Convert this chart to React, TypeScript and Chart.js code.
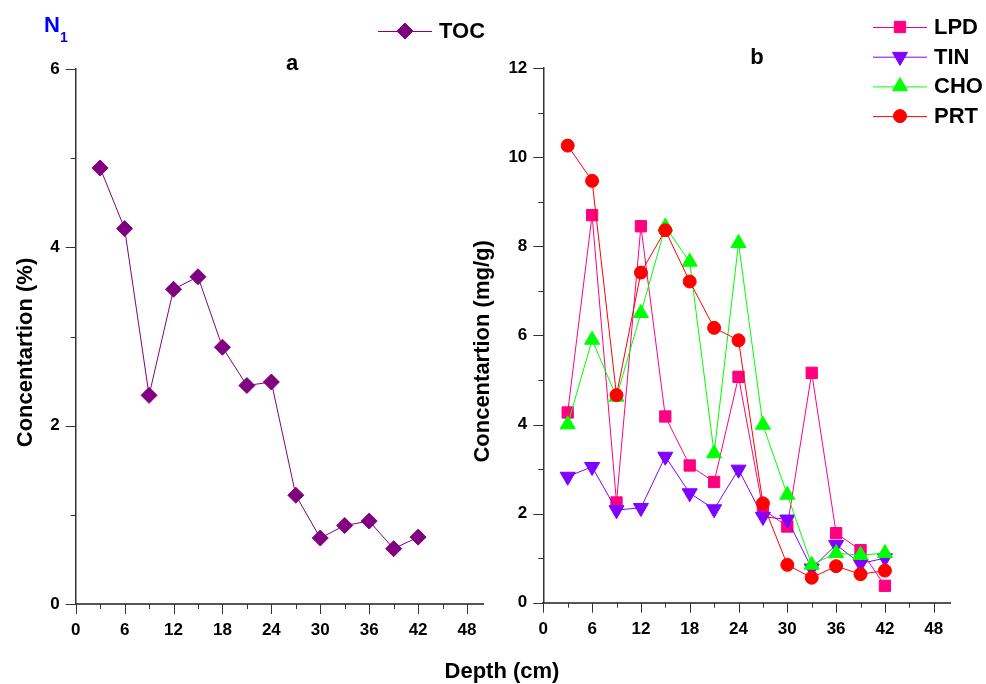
import React, { useEffect, useRef } from 'react';
import { Chart, registerables } from 'chart.js';
import { drawPoint } from 'chart.js/helpers';

Chart.register(...registerables);

// ---- data ----
const depth = [3, 6, 9, 12, 15, 18, 21, 24, 27, 30, 33, 36, 39, 42];
const TOC = [4.89, 4.21, 2.34, 3.53, 3.67, 2.88, 2.45, 2.49, 1.22, 0.74, 0.88, 0.93, 0.62, 0.75];
const LPD = [4.27, 8.70, 2.25, 8.45, 4.18, 3.08, 2.71, 5.07, 2.10, 1.71, 5.16, 1.56, 1.18, 0.38];
const TIN = [2.83, 3.05, 2.08, 2.13, 3.28, 2.46, 2.10, 2.99, 1.93, 1.87, 0.77, 1.30, 0.88, 1.00];
const CHO = [4.00, 5.90, 4.62, 6.50, 8.44, 7.65, 3.35, 8.07, 3.99, 2.42, 0.85, 1.11, 1.07, 1.11];
const PRT = [10.26, 9.47, 4.66, 7.41, 8.36, 7.21, 6.17, 5.89, 2.23, 0.85, 0.56, 0.82, 0.64, 0.72];

const xMax = 50;
const xStep = 3;
const xLabelStep = 6;
const leftYMax = 6;
const rightYMax = 12;

const FONT = "'Liberation Sans', Arial, Helvetica, sans-serif";
const W = 986;
const H = 684;

type Series = {
  label: string;
  values: number[];
  color: string;
  pointStyle: string;
  radius: number;
  rotation?: number;
  order: number;
};

const leftSeries: Series[] = [
  { label: 'TOC', values: TOC, color: '#800080', pointStyle: 'rectRot', radius: 8, order: 0 },
];
const rightSeries: Series[] = [
  { label: 'LPD', values: LPD, color: '#FF0080', pointStyle: 'rect', radius: 8, order: 3 },
  { label: 'TIN', values: TIN, color: '#8000FF', pointStyle: 'triangle', radius: 8.7, rotation: 180, order: 2 },
  { label: 'CHO', values: CHO, color: '#00FF00', pointStyle: 'triangle', radius: 8.7, order: 1 },
  { label: 'PRT', values: PRT, color: '#FF0000', pointStyle: 'circle', radius: 6.5, order: 0 },
];

function toDatasets(series: Series[]) {
  return series.map((s) => ({
    label: s.label,
    data: depth.map((d, i) => ({ x: d, y: s.values[i] })),
    borderColor: s.color,
    backgroundColor: s.color,
    borderWidth: 1,
    pointStyle: s.pointStyle,
    pointRadius: s.radius,
    pointRotation: s.rotation || 0,
    pointBackgroundColor: s.color,
    pointBorderColor: s.color,
    pointBorderWidth: 1,
    tension: 0,
    clip: false,
    order: s.order,
  }));
}

const tickMarks = {
  id: 'tickMarks',
  afterDraw(chart: any) {
    const ctx = chart.ctx;
    const xs = chart.scales.x;
    const ys = chart.scales.y;
    const area = chart.chartArea;
    ctx.save();
    ctx.strokeStyle = '#333';
    ctx.lineWidth = 1;
    for (const t of xs.ticks) {
      const px = Math.round(xs.getPixelForValue(t.value)) + 0.5;
      const len = t.value % xLabelStep === 0 ? 10 : 5;
      ctx.beginPath();
      ctx.moveTo(px, area.bottom);
      ctx.lineTo(px, area.bottom + len);
      ctx.stroke();
    }
    for (const t of ys.ticks) {
      const py = Math.round(ys.getPixelForValue(t.value)) + 0.5;
      const len = t.value % 2 === 0 ? 10 : 5;
      ctx.beginPath();
      ctx.moveTo(area.left - len, py);
      ctx.lineTo(area.left, py);
      ctx.stroke();
    }
    ctx.restore();
  },
};

type TextItem = { text: string; x: number; y: number; size: number; color?: string; align?: CanvasTextAlign };

function makeDecor(opts: {
  yTitle: string;
  yTitleDx: number;
  yTitleDy: number;
  legendX: number;
  legendY: number;
  legendGap: number;
  series: Series[];
  texts: TextItem[];
}) {
  return {
    id: 'decor',
    afterDraw(chart: any) {
      const ctx = chart.ctx;
      const area = chart.chartArea;
      ctx.save();
      // y title
      ctx.fillStyle = '#000';
      ctx.font = `bold 22px ${FONT}`;
      ctx.translate(area.left + opts.yTitleDx, (area.top + area.bottom) / 2 + opts.yTitleDy);
      ctx.rotate(-Math.PI / 2);
      ctx.textAlign = 'center';
      ctx.textBaseline = 'middle';
      ctx.fillText(opts.yTitle, 0, 0);
      ctx.restore();

      // legend
      ctx.save();
      opts.series.forEach((s, i) => {
        const y = opts.legendY + i * opts.legendGap;
        const x0 = opts.legendX;
        ctx.strokeStyle = s.color;
        ctx.lineWidth = 1;
        ctx.beginPath();
        ctx.moveTo(x0, y + 0.5);
        ctx.lineTo(x0 + 54, y + 0.5);
        ctx.stroke();
        ctx.fillStyle = s.color;
        ctx.strokeStyle = s.color;
        drawPoint(ctx, { pointStyle: s.pointStyle as any, radius: s.radius, rotation: s.rotation || 0, borderWidth: 1 }, x0 + 27, y);
        ctx.fillStyle = '#000';
        ctx.font = `bold 22px ${FONT}`;
        ctx.textAlign = 'left';
        ctx.textBaseline = 'middle';
        ctx.fillText(s.label, x0 + 61, y + 1);
      });
      ctx.restore();

      // free texts
      ctx.save();
      for (const t of opts.texts) {
        ctx.fillStyle = t.color || '#000';
        ctx.font = `bold ${t.size}px ${FONT}`;
        ctx.textAlign = t.align || 'left';
        ctx.textBaseline = 'alphabetic';
        ctx.fillText(t.text, t.x, t.y);
      }
      ctx.restore();
    },
  };
}

function buildOptions(cfg: { top: number; right: number; yWidth: number; xHeight: number; yMax: number }) {
  const tickFont = { family: FONT, size: 17, weight: 'bold' as const };
  return {
    responsive: false,
    animation: false as const,
    events: [],
    layout: { padding: { left: 0, top: cfg.top, right: cfg.right, bottom: 0 } },
    plugins: { legend: { display: false }, tooltip: { enabled: false }, title: { display: false } },
    scales: {
      x: {
        type: 'linear' as const,
        min: 0,
        max: xMax,
        afterFit: (s: any) => {
          s.height = cfg.xHeight;
        },
        grid: { display: true, drawOnChartArea: false, drawTicks: true, tickLength: 10, tickColor: 'rgba(0,0,0,0)' },
        border: { display: true, color: '#555', width: 2 },
        ticks: {
          stepSize: xStep,
          includeBounds: false,
          autoSkip: false,
          maxRotation: 0,
          padding: 6,
          color: '#000',
          font: tickFont,
          callback: (v: any) => (Number(v) % xLabelStep === 0 ? String(v) : ''),
        },
      },
      y: {
        type: 'linear' as const,
        min: 0,
        max: cfg.yMax,
        afterFit: (s: any) => {
          s.width = cfg.yWidth;
        },
        grid: { display: true, drawOnChartArea: false, drawTicks: true, tickLength: 10, tickColor: 'rgba(0,0,0,0)' },
        border: { display: true, color: '#333', width: 1.5 },
        ticks: {
          stepSize: 1,
          includeBounds: false,
          autoSkip: false,
          padding: 6,
          color: '#000',
          font: tickFont,
          callback: (v: any) => (Number(v) % 2 === 0 ? String(v) : ''),
        },
      },
    },
  };
}

export default function App() {
  const leftRef = useRef<HTMLCanvasElement>(null);
  const rightRef = useRef<HTMLCanvasElement>(null);

  useEffect(() => {
    const left = new Chart(leftRef.current as HTMLCanvasElement, {
      type: 'line',
      data: { datasets: toDatasets(leftSeries) as any },
      options: buildOptions({ top: 69, right: W - 483.3, yWidth: 75.7, xHeight: H - 604, yMax: leftYMax }) as any,
      plugins: [
        tickMarks,
        makeDecor({
          yTitle: 'Concentartion (%)',
          yTitleDx: -50,
          yTitleDy: 16,
          legendX: 378,
          legendY: 31,
          legendGap: 30,
          series: leftSeries,
          texts: [
            { text: 'N', x: 44, y: 32, size: 22, color: '#0000FF' },
            { text: '1', x: 60, y: 42, size: 14, color: '#0000FF' },
            { text: 'a', x: 292, y: 70, size: 22, align: 'center' },
          ],
        }),
      ] as any,
    });
    const right = new Chart(rightRef.current as HTMLCanvasElement, {
      type: 'line',
      data: { datasets: toDatasets(rightSeries) as any },
      options: buildOptions({ top: 68.1, right: W - 950, yWidth: 543.3, xHeight: H - 602.7, yMax: rightYMax }) as any,
      plugins: [
        tickMarks,
        makeDecor({
          yTitle: 'Concentartion (mg/g)',
          yTitleDx: -60,
          yTitleDy: 16,
          legendX: 873,
          legendY: 27,
          legendGap: 29.7,
          series: rightSeries,
          texts: [
            { text: 'b', x: 757, y: 64, size: 22, align: 'center' },
            { text: 'Depth (cm)', x: 502, y: 678, size: 22, align: 'center' },
          ],
        }),
      ] as any,
    });
    return () => {
      left.destroy();
      right.destroy();
    };
  }, []);

  const cstyle: React.CSSProperties = { position: 'absolute', left: 0, top: 0, width: W, height: H };
  return (
    <div style={{ position: 'absolute', left: 0, top: 0, width: W, height: H, background: '#fff' }}>
      <canvas ref={leftRef} width={W} height={H} style={cstyle} />
      <canvas ref={rightRef} width={W} height={H} style={cstyle} />
    </div>
  );
}
